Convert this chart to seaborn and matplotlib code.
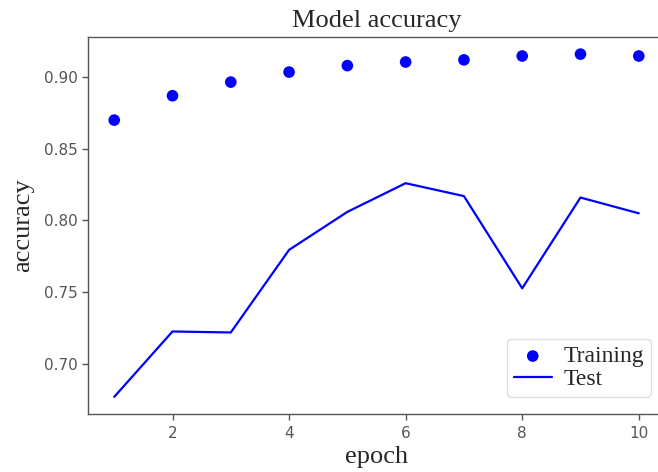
import matplotlib
matplotlib.use('Agg')  # no display
import matplotlib.pyplot as plt
import seaborn as sns
import pandas as pd

# values
epochs = [1, 2, 3, 4, 5, 6, 7, 8, 9, 10]
train_acc = [0.870, 0.887, 0.8965, 0.9035, 0.908, 0.9105, 0.912, 0.9147, 0.916, 0.9147]
test_acc = [0.677, 0.7226, 0.7219, 0.7795, 0.806, 0.826, 0.817, 0.7527, 0.816, 0.805]

df = pd.DataFrame({'epoch': epochs, 'train': train_acc, 'test': test_acc})

sns.set_style('ticks')
serif = ['Liberation Serif', 'DejaVu Serif']
grey = '#555555'

fig = plt.figure(figsize=(6.58, 4.72), dpi=100)
ax = fig.add_axes([88 / 658, 58 / 472, 577 / 658, 377 / 472])

sns.scatterplot(data=df, x='epoch', y='train', ax=ax, color='blue',
                s=70, edgecolor='none', label='Training')
sns.lineplot(data=df, x='epoch', y='test', ax=ax, color='blue',
             linewidth=1.6, label='Test')

ax.margins(x=0.05, y=0.05)
ax.set_xticks([2, 4, 6, 8, 10])
ax.set_yticks([0.70, 0.75, 0.80, 0.85, 0.90])
ax.set_yticklabels(['0.70', '0.75', '0.80', '0.85', '0.90'])

for s in ax.spines.values():
    s.set_color(grey)
    s.set_linewidth(1.0)
# picture is cropped on the right, so no right frame line
ax.spines['right'].set_visible(False)
ax.tick_params(colors=grey, labelsize=11, length=4, width=1.0)
ax.tick_params(axis='x', pad=5)

ax.set_title('Model accuracy', fontsize=19, family=serif, pad=7)
ax.set_xlabel('epoch', fontsize=19, family=serif, labelpad=3)
ax.set_ylabel('accuracy', fontsize=19, family=serif, labelpad=7)

ax.legend(loc='lower right', bbox_to_anchor=(0.976, 0.045), borderaxespad=0,
          prop={'family': serif, 'size': 17}, handlelength=1.6,
          borderpad=0.3, labelspacing=0.05, handletextpad=0.5,
          frameon=True, edgecolor='#dddddd', framealpha=1.0)

fig.savefig('out.png', dpi=100)
